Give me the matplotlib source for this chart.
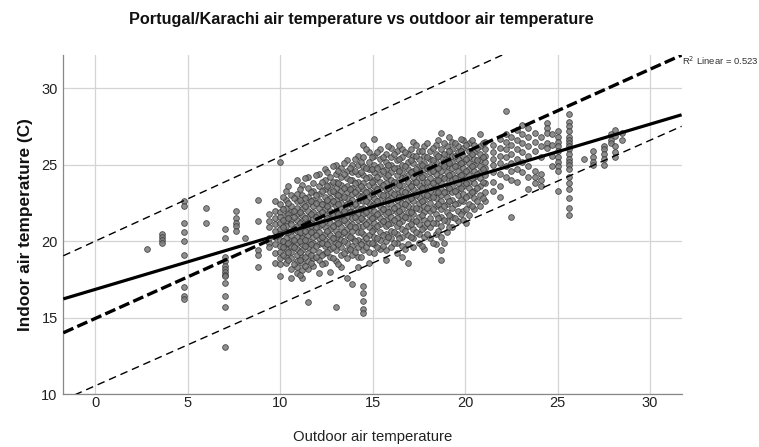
import numpy as np
import matplotlib
matplotlib.use("Agg")
import matplotlib.pyplot as plt

plt.rcParams['font.family'] = ['Liberation Sans', 'DejaVu Sans']

# ---- data: outdoor temperature columns and indoor values ----
col_x = [2.8, 3.6, 4.8, 6.0, 7.0, 7.6, 8.1, 8.8,
         9.4, 9.7, 10.0, 10.3, 10.6, 10.9, 11.2, 11.5, 11.8, 12.1, 12.4, 12.7,
         13.0, 13.3, 13.6, 13.9, 14.2, 14.5, 14.8, 15.1, 15.4, 15.7, 16.0, 16.3,
         16.6, 16.9, 17.2, 17.5, 17.8, 18.1, 18.4, 18.7, 19.0, 19.3, 19.6, 19.9,
         20.2, 20.5, 20.8, 21.1, 21.5, 21.9, 22.2, 22.5, 22.8, 23.1, 23.4, 23.8,
         24.1, 24.4, 24.7, 25.0, 25.6, 26.4, 26.9, 27.5, 27.9, 28.1, 28.5]

col_y = [
    [19.5],
    [20.5, 20.3, 20.1, 19.9],
    [22.6, 22.3, 21.2, 20.6, 20.0, 19.1, 17.0, 16.4, 16.2],
    [22.2, 21.2],
    [20.8, 20.2, 19.0, 18.7, 18.4, 18.2, 18.0, 17.8, 17.7, 17.3, 16.4, 15.7, 13.1],
    [22.0, 21.5, 21.2, 21.0, 20.7],
    [20.2],
    [22.7, 21.3, 19.4, 19.1, 18.3],
    [21.8, 21.3, 20.9, 20.2, 19.9, 19.6],
    [22.6, 22.0, 21.5, 21.1, 20.7, 20.3, 19.8, 19.2, 18.6],
    [25.2, 22.4, 21.9, 21.6, 21.2, 20.8, 20.5, 20.1, 19.7, 19.3, 18.9, 18.5, 17.7],
    [23.3, 22.7, 22.2, 21.7, 21.3, 21.0, 20.6, 20.2, 19.8, 19.5, 19.0, 18.6],
    [23.0, 22.3, 21.9, 21.4, 21.1, 20.7, 20.4, 20.0, 19.7, 19.3, 18.9, 18.2, 17.6],
    [24.0, 23.1, 22.6, 22.2, 21.8, 21.4, 21.0, 20.7, 20.3, 19.9, 19.5, 19.1, 18.7, 18.3, 17.9],
    [23.7, 23.0, 22.5, 22.1, 21.7, 21.3, 20.9, 20.5, 20.2, 19.8, 19.4, 19.0, 18.6, 18.1, 17.6],
    [24.2, 23.5, 22.9, 22.4, 22.0, 21.6, 21.2, 20.8, 20.4, 20.0, 19.6, 19.2, 18.7, 18.2, 16.0],
    [23.8, 23.3, 22.7, 22.3, 21.9, 21.5, 21.1, 20.7, 20.3, 19.9, 19.4, 18.9, 18.4],
    [24.4, 23.6, 23.1, 22.6, 22.2, 21.8, 21.4, 21.0, 20.6, 20.2, 19.8, 19.3, 18.8, 17.9],
    [24.7, 24.0, 23.4, 22.9, 22.5, 22.1, 21.7, 21.3, 20.9, 20.5, 20.1, 19.7, 19.2, 18.6],
    [24.2, 23.7, 23.2, 22.8, 22.4, 22.0, 21.6, 21.2, 20.8, 20.4, 20.0, 19.5, 19.0, 18.0],
    [25.0, 24.4, 23.9, 23.5, 23.1, 22.7, 22.3, 21.9, 21.5, 21.1, 20.7, 20.3, 19.9, 19.4, 18.7, 15.7],
    [24.8, 24.2, 23.7, 23.3, 22.9, 22.5, 22.1, 21.7, 21.3, 20.9, 20.5, 20.1, 19.6, 19.1, 18.3],
    [25.3, 24.6, 24.1, 23.6, 23.2, 22.8, 22.4, 22.0, 21.6, 21.2, 20.8, 20.4, 19.9, 19.4, 18.9, 17.6],
    [25.0, 24.5, 24.0, 23.5, 23.1, 22.7, 22.3, 21.9, 21.5, 21.1, 20.7, 20.2, 19.7, 19.1, 17.2],
    [25.6, 25.0, 24.4, 23.9, 23.4, 23.0, 22.6, 22.2, 21.8, 21.4, 21.0, 20.6, 20.1, 19.6, 19.0, 18.3],
    [26.3, 25.5, 24.9, 24.3, 23.8, 23.4, 23.0, 22.6, 22.2, 21.8, 21.4, 21.0, 20.5, 20.0, 19.4,
     17.1, 16.6, 16.1, 15.6, 15.3],
    [25.8, 25.2, 24.7, 24.2, 23.7, 23.3, 22.9, 22.5, 22.1, 21.7, 21.3, 20.9, 20.4, 19.9, 19.3, 18.6],
    [26.7, 25.6, 25.0, 24.5, 24.0, 23.6, 23.2, 22.8, 22.4, 22.0, 21.6, 21.2, 20.8, 20.3, 19.8, 19.2],
    [26.0, 25.4, 24.9, 24.4, 23.9, 23.5, 23.1, 22.7, 22.3, 21.9, 21.5, 21.1, 20.6, 20.1, 19.5],
    [25.7, 25.2, 24.7, 24.2, 23.8, 23.4, 23.0, 22.6, 22.2, 21.8, 21.4, 21.0, 20.5, 20.0, 19.4, 18.8],
    [26.1, 25.5, 25.0, 24.5, 24.0, 23.6, 23.2, 22.8, 22.4, 22.0, 21.6, 21.2, 20.7, 20.2, 19.6],
    [25.9, 25.3, 24.8, 24.3, 23.9, 23.5, 23.1, 22.7, 22.3, 21.9, 21.5, 21.0, 20.5, 19.9, 19.2],
    [26.0, 25.5, 25.0, 24.5, 24.1, 23.7, 23.3, 22.9, 22.5, 22.1, 21.7, 21.3, 20.8, 20.3, 19.7, 19.0],
    [25.7, 25.2, 24.7, 24.3, 23.9, 23.5, 23.1, 22.7, 22.3, 21.9, 21.5, 21.0, 20.4, 19.8, 18.6],
    [26.5, 25.6, 25.1, 24.6, 24.2, 23.8, 23.4, 23.0, 22.6, 22.2, 21.8, 21.3, 20.8, 20.2, 19.6],
    [25.9, 25.4, 24.9, 24.5, 24.1, 23.7, 23.3, 22.9, 22.5, 22.1, 21.6, 21.1, 20.5, 19.9],
    [26.2, 25.6, 25.1, 24.7, 24.3, 23.9, 23.5, 23.1, 22.7, 22.3, 21.9, 21.4, 20.9, 20.3, 19.5],
    [25.9, 25.4, 24.9, 24.5, 24.1, 23.7, 23.3, 22.9, 22.5, 22.0, 21.5, 20.9, 20.2],
    [26.3, 25.7, 25.2, 24.8, 24.4, 24.0, 23.6, 23.2, 22.8, 22.3, 21.8, 21.2, 20.5, 19.8],
    [27.1, 26.0, 25.5, 25.0, 24.6, 24.2, 23.8, 23.4, 23.0, 22.6, 22.1, 21.6, 21.0, 20.3, 19.4, 18.8],
    [26.2, 25.7, 25.3, 24.9, 24.5, 24.1, 23.7, 23.3, 22.9, 22.4, 21.9, 21.3, 20.6],
    [26.5, 26.0, 25.6, 25.2, 24.8, 24.4, 24.0, 23.6, 23.2, 22.7, 22.2, 21.6, 20.9],
    [26.2, 25.8, 25.4, 25.0, 24.6, 24.2, 23.8, 23.4, 23.0, 22.5, 22.0, 21.3],
    [26.6, 26.1, 25.6, 25.2, 24.8, 24.4, 24.0, 23.6, 23.1, 22.6, 22.0, 21.4],
    [26.4, 25.9, 25.5, 25.1, 24.7, 24.3, 23.9, 23.5, 23.0, 22.4, 21.7],
    [26.3, 25.8, 25.4, 25.0, 24.6, 24.2, 23.8, 23.3, 22.8, 22.1],
    [27.0, 26.2, 25.7, 25.3, 24.9, 24.5, 24.1, 23.6, 23.0, 22.3],
    [26.5, 26.0, 25.6, 25.2, 24.8, 24.3, 23.8, 23.2, 22.6],
    [26.3, 25.8, 25.4, 25.0, 24.5, 23.9, 23.3],
    [26.7, 26.1, 25.6, 25.1, 24.4, 23.6, 22.9],
    [28.5, 27.0, 26.5, 26.0, 25.5, 24.9, 24.2],
    [26.8, 26.3, 25.7, 25.1, 24.6, 24.0, 21.6],
    [27.3, 26.6, 26.0, 25.4, 24.7, 23.9],
    [27.6, 27.0, 26.4, 25.8, 25.2, 24.5],
    [27.4, 26.8, 26.2, 25.6, 24.9, 24.2, 23.4],
    [27.1, 26.5, 25.9, 24.6, 24.2, 23.8],
    [26.8, 26.2, 25.5, 24.4, 24.0, 23.6],
    [27.7, 27.4, 27.1, 26.4, 26.1],
    [27.0, 26.3, 25.6, 24.9],
    [27.2, 26.8, 26.5, 26.2, 25.9, 25.5, 25.2, 24.9, 24.6, 23.3],
    [28.3, 27.8, 27.5, 27.2, 26.8, 26.6, 26.4, 26.2, 26.0, 25.7, 25.4, 25.2, 25.0, 24.7,
     24.2, 23.8, 23.4, 22.8, 22.2, 21.7],
    [25.4],
    [25.9, 25.5, 25.2, 25.0],
    [26.2, 26.0, 25.7, 25.4, 25.0],
    [27.0, 26.6, 26.4],
    [27.3, 26.9, 26.2, 25.8, 25.5],
    [27.1, 26.6],
]

# in-between columns of the dense cloud
mid_x = [10.15, 10.45, 10.75, 11.05, 11.35, 11.65, 11.95, 12.25, 12.55, 12.85,
         13.15, 13.45, 13.75, 14.05, 14.35, 14.65, 14.95, 15.25, 15.55, 15.85,
         16.15, 16.45, 16.75, 17.05, 17.35, 17.65, 17.95, 18.25, 18.55, 18.85,
         19.15, 19.45, 19.75, 20.05, 20.35, 20.65, 20.95]
mid_y = [
    [22.9, 22.1, 21.4, 20.9, 20.0, 19.6, 19.1],
    [23.6, 22.5, 21.8, 21.5, 20.6, 19.9, 19.3, 18.8],
    [22.8, 22.0, 21.6, 20.8, 20.1, 19.6, 18.5],
    [23.4, 22.7, 21.9, 21.2, 20.6, 20.0, 19.3, 18.8, 17.8],
    [24.1, 22.8, 22.3, 21.5, 20.7, 20.1, 19.7, 19.0, 18.4],
    [23.2, 22.6, 21.8, 21.0, 20.6, 19.8, 19.1, 18.6],
    [24.3, 23.0, 22.5, 21.6, 20.9, 20.4, 19.7, 19.0],
    [23.9, 23.3, 22.4, 21.9, 21.1, 20.3, 19.9, 19.1, 18.5],
    [24.5, 23.6, 22.7, 22.3, 21.5, 20.7, 19.8, 19.3],
    [24.9, 23.9, 23.3, 22.6, 21.7, 21.0, 20.2, 19.6, 18.9],
    [24.6, 23.8, 23.0, 22.4, 21.8, 21.2, 20.5, 19.8, 18.5],
    [25.1, 24.4, 23.5, 22.9, 22.0, 21.4, 20.6, 20.0, 19.2],
    [24.8, 24.0, 23.4, 22.5, 21.9, 21.0, 20.3, 19.5],
    [25.4, 24.6, 23.8, 23.2, 22.4, 21.6, 20.9, 20.0, 19.3],
    [25.2, 24.5, 23.6, 22.9, 22.1, 21.5, 20.6, 19.8, 19.0],
    [26.0, 24.8, 24.1, 23.2, 22.6, 21.9, 21.1, 20.2, 19.6],
    [25.5, 24.7, 23.9, 23.1, 22.3, 21.5, 20.7, 19.9],
    [25.8, 24.8, 24.2, 23.4, 22.6, 21.8, 21.0, 20.2, 19.6],
    [25.5, 24.6, 23.7, 23.0, 22.1, 21.3, 20.4, 19.7],
    [26.2, 25.0, 24.3, 23.5, 22.7, 21.9, 21.1, 20.3],
    [25.7, 24.8, 23.9, 23.1, 22.2, 21.4, 20.6, 19.9],
    [26.3, 25.4, 24.6, 23.7, 22.9, 22.0, 21.2, 20.2],
    [25.8, 24.9, 24.1, 23.2, 22.4, 21.6, 20.7, 19.5],
    [26.0, 25.3, 24.5, 23.6, 22.8, 21.9, 21.1, 20.3],
    [26.3, 25.6, 24.7, 23.9, 23.0, 22.2, 21.3, 20.6],
    [25.9, 25.0, 24.2, 23.5, 22.6, 21.7, 20.8, 19.7],
    [26.4, 25.5, 24.8, 23.9, 23.0, 22.2, 21.2, 20.5],
    [26.1, 25.3, 24.6, 23.8, 22.9, 22.1, 21.2, 19.9],
    [26.6, 25.6, 24.8, 24.0, 23.2, 22.4, 21.5, 20.7],
    [26.4, 25.7, 24.9, 24.1, 23.2, 22.3, 21.4, 19.9],
    [26.8, 25.9, 25.1, 24.3, 23.5, 22.6, 21.7, 20.9],
    [26.4, 25.6, 24.9, 24.1, 23.3, 22.4, 21.5],
    [26.7, 25.9, 25.1, 24.3, 23.5, 22.7, 21.8],
    [26.3, 25.4, 24.6, 23.8, 22.9, 22.1, 21.2],
    [26.6, 25.7, 24.9, 24.1, 23.2, 22.3],
    [26.1, 25.3, 24.4, 23.5, 22.6],
    [26.4, 25.5, 24.7, 23.9, 22.8],
]

# fitted / reference lines (intercept, slope)
fit_line = (16.85, 0.360)        # solid: linear fit, R2 = 0.523
comfort_line = (14.95, 0.543)    # thick dashed
upper_line = (20.0, 0.553)       # thin dashed upper
lower_line = (10.55, 0.535)      # thin dashed lower
r2_label = "R$^2$ Linear = 0.523"

x_ticks = [0, 5, 10, 15, 20, 25, 30]
y_ticks = [10, 15, 20, 25, 30]

all_x = list(col_x) + list(mid_x)
all_y = list(col_y) + list(mid_y)
outdoor = np.concatenate([[cx] * len(ys) for cx, ys in zip(all_x, all_y)])
indoor = np.concatenate([np.array(ys, dtype=float) for ys in all_y])

fig = plt.figure(figsize=(7.59, 4.47), dpi=100)
ax = fig.add_axes([0.0834, 0.118, 0.8146, 0.759])

xmin, xmax = -1.72, 31.7
ymin, ymax = 10.0, 32.17
ax.set_xlim(xmin, xmax)
ax.set_ylim(ymin, ymax)

ax.grid(True, color='#d4d4d4', linewidth=0.9)
ax.set_axisbelow(True)

ax.scatter(outdoor, indoor, s=17, facecolor='#7a7a7a', edgecolor='#363636',
           linewidths=0.6, alpha=0.85, zorder=2)

xx = np.array([xmin, xmax])
ax.plot(xx, fit_line[0] + fit_line[1] * xx, color='black', lw=2.3, zorder=4,
        solid_capstyle='butt')
ax.plot(xx, comfort_line[0] + comfort_line[1] * xx, color='black', lw=2.4,
        dashes=(3.3, 1.3), zorder=4)
ax.plot(xx, upper_line[0] + upper_line[1] * xx, color='black', lw=1.0,
        dashes=(5.5, 3.5), zorder=4)
ax.plot(xx, lower_line[0] + lower_line[1] * xx, color='black', lw=1.0,
        dashes=(5.5, 3.5), zorder=4)

ax.set_xticks(x_ticks)
ax.set_yticks(y_ticks)
ax.tick_params(length=0, labelsize=10.5, labelcolor='#222222')
ax.tick_params(axis='x', pad=1.5)
ax.tick_params(axis='y', pad=4)

for s in ['top', 'right']:
    ax.spines[s].set_visible(False)
for s in ['left', 'bottom']:
    ax.spines[s].set_color('#888888')
    ax.spines[s].set_linewidth(0.9)

ax.set_xlabel("Outdoor air temperature", fontsize=10.7, color='#222222', labelpad=14)
ax.set_ylabel("Indoor air temperature (C)", fontsize=12.4, fontweight='bold',
              color='#111111', labelpad=6)
fig.text(0.4765, 0.957, "Portugal/Karachi air temperature vs outdoor air temperature",
         ha='center', va='center', fontsize=11.7, fontweight='bold', color='#111111')
fig.text(0.899, 0.864, r2_label, fontsize=6.8, color='#333333', ha='left', va='center')

fig.savefig("out.png", dpi=100)
